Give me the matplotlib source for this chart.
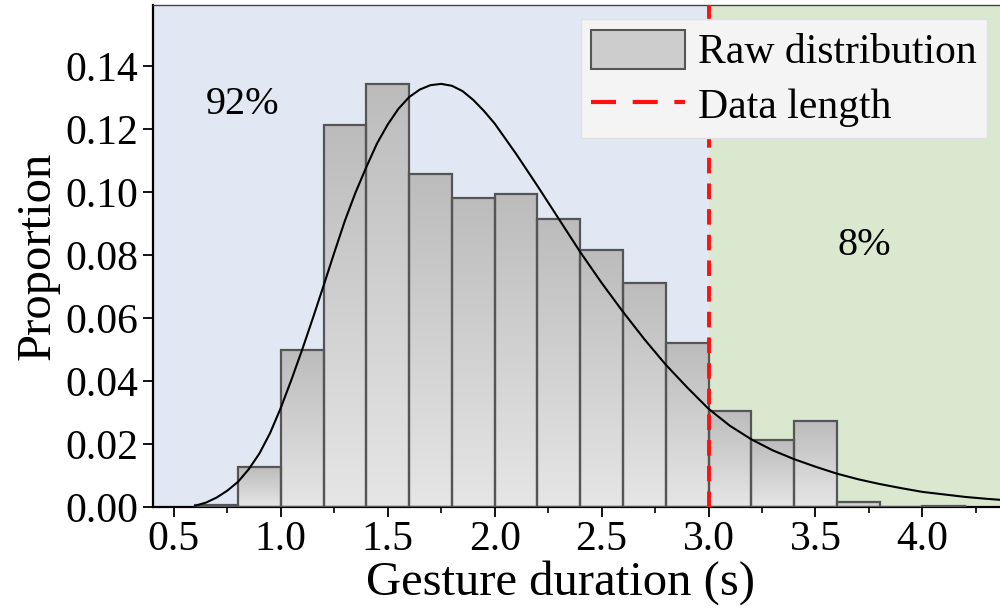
import numpy as np
import matplotlib
matplotlib.use("Agg")
from matplotlib import pyplot as plt
from matplotlib.colors import LinearSegmentedColormap
from matplotlib.patches import Patch
from matplotlib.lines import Line2D
from matplotlib.ticker import MultipleLocator

# histogram bins (left edges, width 0.2) and proportions
bin_left = [0.6, 0.8, 1.0, 1.2, 1.4, 1.6, 1.8, 2.0, 2.2, 2.4, 2.6, 2.8,
            3.0, 3.2, 3.4, 3.6, 3.8, 4.0]
proportion = [0.0006, 0.0127, 0.0498, 0.1213, 0.1343, 0.1057, 0.0982, 0.0994,
              0.0914, 0.0816, 0.0713, 0.0520, 0.0305, 0.0212, 0.0272, 0.0016,
              0.0, 0.0004]
bin_width = 0.2

# fitted curve
fit_x = [0.6, 0.65, 0.7, 0.75, 0.8, 0.85, 0.9, 0.95, 1.0, 1.05, 1.1, 1.15,
         1.2, 1.25, 1.3, 1.35, 1.4, 1.45, 1.5, 1.55, 1.6,
         1.65, 1.7, 1.75, 1.8, 1.85, 1.9, 1.95, 2.0, 2.1, 2.2, 2.3, 2.4, 2.5,
         2.6, 2.7, 2.8, 2.9, 3.0, 3.1, 3.2, 3.3, 3.4, 3.5, 3.6, 3.7, 3.8, 3.9,
         4.0, 4.1, 4.2, 4.3, 4.4]
fit_y = [0.0004, 0.0014, 0.0030, 0.0052, 0.0080, 0.0120, 0.0170, 0.0235,
         0.0315, 0.0405, 0.0500, 0.0600, 0.0703, 0.0808, 0.0910, 0.1000,
         0.1080, 0.1155, 0.1215, 0.1265, 0.1302,
         0.1326, 0.1340, 0.1344, 0.1338,
         0.1321, 0.1293, 0.1258, 0.1218, 0.1122, 0.1020, 0.0915, 0.0810,
         0.0712, 0.0620, 0.0533, 0.0452, 0.0380, 0.0312, 0.0258, 0.0215,
         0.0180, 0.0152, 0.0128, 0.0106, 0.0088, 0.0073, 0.0060, 0.0048,
         0.0040, 0.0032, 0.0026, 0.0021]

data_length = 3.0
share_labels = ["92%", "8%"]

plt.rcParams['font.family'] = ['Liberation Serif', 'DejaVu Serif']

fig = plt.figure(figsize=(10, 6.09), dpi=100)
ax = fig.add_axes([0.1525, 0.1675, 0.849, 0.8245])

xmin, xmax = 0.4, 4.37
ymin, ymax = 0.0, 0.1595
ax.set_xlim(xmin, xmax)
ax.set_ylim(ymin, ymax)

# shaded regions
ax.axvspan(xmin, data_length, color='#e1e8f4', zorder=0, lw=0)
ax.axvspan(data_length, xmax, color='#d9e8cf', zorder=0, lw=0)

# gradient-filled bars
cmap = LinearSegmentedColormap.from_list('g', ['#e6e6e6', '#bcbcbc'])
grad = np.linspace(0, 1, 256).reshape(-1, 1)
bars = ax.bar(bin_left, proportion, width=bin_width, align='edge',
              facecolor='none', edgecolor='#555555', linewidth=1.6, zorder=3)
for b in bars:
    h = b.get_height()
    if h <= 0:
        continue
    x0 = b.get_x()
    im = ax.imshow(grad, cmap=cmap, aspect='auto', origin='lower',
                   extent=[x0, x0 + bin_width, 0, h], zorder=2)
    im.set_clip_path(b)

ax.plot(fit_x, fit_y, color='black', lw=1.5, zorder=4)
ax.axvline(data_length, color='#ff1010', lw=2.8, ls=(0, (4, 2.6)), zorder=5)

ax.text(0.823, 0.128, share_labels[0], fontsize=29, ha='center', va='center')
ax.text(3.727, 0.083, share_labels[1], fontsize=29, ha='center', va='center')

ax.set_xlabel('Gesture duration (s)', fontsize=35, labelpad=-2)
ax.xaxis.set_label_coords(0.48, -0.105)
ax.set_ylabel('Proportion', fontsize=35, labelpad=4)

ax.xaxis.set_major_locator(MultipleLocator(0.5))
ax.xaxis.set_minor_locator(MultipleLocator(0.25))
ax.set_yticks(np.arange(0, 0.141, 0.02))
ax.set_yticklabels(['%.2f' % v for v in np.arange(0, 0.141, 0.02)])
ax.tick_params(axis='both', which='major', labelsize=30, direction='out',
               length=7, width=1.3, pad=3)
ax.tick_params(axis='x', which='minor', direction='out', length=4, width=1.2)

for s in ['left', 'bottom']:
    ax.spines[s].set_linewidth(1.6)
ax.spines['top'].set_linewidth(1.0)
ax.spines['top'].set_color('#444444')
ax.spines['right'].set_visible(False)

handles = [Patch(facecolor='#cdcdcd', edgecolor='#555555', lw=1.5),
           Line2D([], [], color='#ff1010', lw=3, ls=(0, (6, 4)))]
leg = ax.legend(handles, ['Raw distribution', 'Data length'],
                loc='upper right', fontsize=30, frameon=True, fancybox=False,
                borderpad=0.25, handlelength=2.25, handleheight=1.05,
                handletextpad=0.3, labelspacing=0.3, borderaxespad=0.35)
leg.get_frame().set_facecolor('#f4f4f4')
leg.get_frame().set_edgecolor('#e0e0e0')
leg.get_frame().set_alpha(1)
leg.set_zorder(6)

fig.savefig('out.png', dpi=100)
